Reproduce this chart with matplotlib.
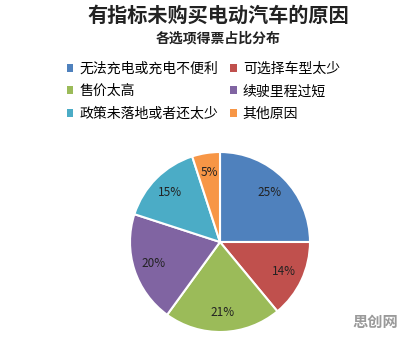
import matplotlib.pyplot as plt
from matplotlib.patches import Patch

plt.rcParams['font.family'] = ['Noto Sans CJK SC', 'DejaVu Sans']

labels = ["无法充电或充电不便利", "可选择车型太少", "售价太高",
          "续驶里程过短", "政策未落地或者还太少", "其他原因"]
values = [25, 14, 21, 20, 15, 5]
colors = ["#4F81BD", "#C0504D", "#9BBB59", "#8064A2", "#4BACC6", "#F79646"]

fig = plt.figure(figsize=(4.19, 3.42), dpi=100)
ax = fig.add_axes([(220 - 90)/419, 1 - (242 + 90)/342, 180/419, 180/342])

wedges, texts, autotexts = ax.pie(values, colors=colors, startangle=90, counterclock=False,
                                  autopct="%d%%", pctdistance=0.78,
                                  wedgeprops=dict(edgecolor="white", linewidth=1.5),
                                  textprops=dict(fontsize=8.5, color="#222222"))
ax.set_xlim(-1, 1)
ax.set_ylim(-1, 1)
ax.set_aspect("equal")

fig.text(0.52, 0.955, "有指标未购买电动汽车的原因", ha="center", va="center",
         fontsize=14.5, fontweight="bold", color="#222222")
fig.text(0.52, 0.888, "各选项得票占比分布", ha="center", va="center",
         fontsize=10, fontweight="bold", color="#222222")

# legend in two columns, row-wise order
order = [0, 2, 4, 1, 3, 5]
handles = [Patch(facecolor=colors[i], label=labels[i]) for i in order]
fig.legend(handles=handles, ncol=2, loc="center", bbox_to_anchor=(0.485, 0.733),
           frameon=False, fontsize=10, handlelength=0.5, handleheight=0.5,
           handletextpad=0.4, columnspacing=0.9, labelspacing=0.6)

fig.text(0.895, 0.058, "思创网", ha="center", va="center", fontsize=11,
         fontweight="bold", color="#9a9a9a")

fig.savefig("out.png", dpi=100)
